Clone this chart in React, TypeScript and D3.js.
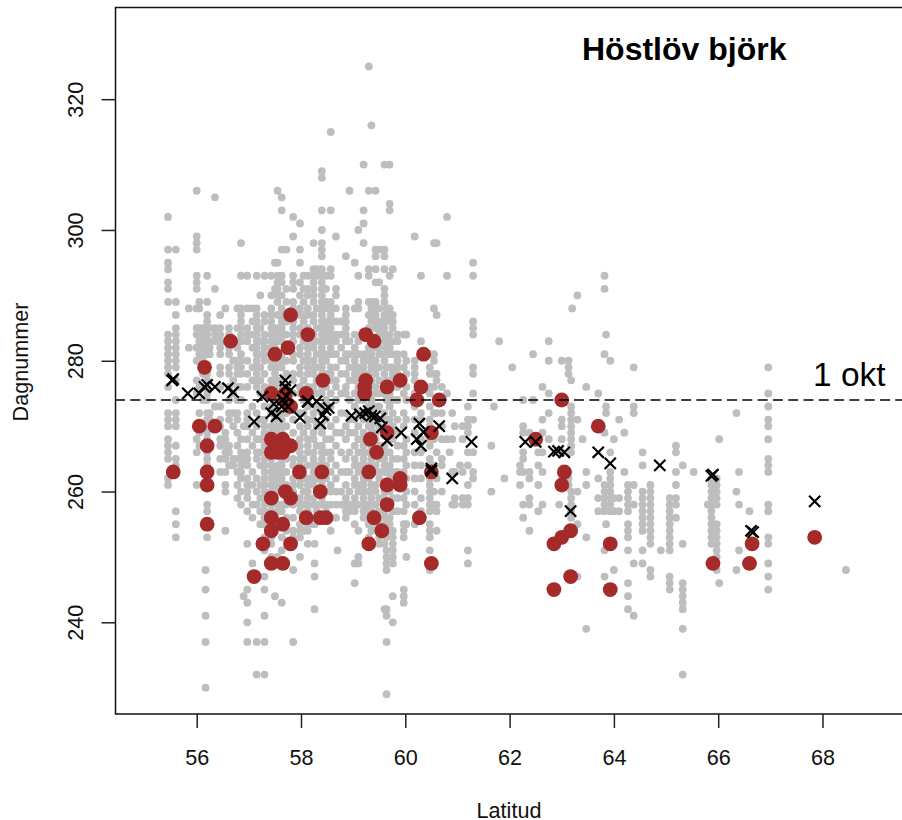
import { useEffect, useRef } from "react";
import * as d3 from "d3";

const width = 902;
const height = 820;

const xTicks = [56, 58, 60, 62, 64, 66, 68];
const yTicks = [240, 260, 280, 300, 320];
const refDay = 274; // 1 okt

// observations, one row per latitude: [latitud, dagnummer...]
const westCoast: number[][] = [
  [55.45, 302, 297, 295, 294, 292, 291, 289, 284, 283, 282, 281, 280, 279, 278, 276, 272, 271, 270, 268, 267, 266, 265, 262, 261],
  [55.6, 297, 289, 287, 285, 284, 283, 282, 281, 280, 279, 277, 274, 272, 271, 270, 267, 265, 264, 263, 257, 255, 253],
  [55.85, 288, 282],
  [56.0, 306, 299, 298, 297, 293, 292, 291, 288, 285, 284, 282, 280, 277, 275, 270, 268, 266, 261],
  [56.05, 289, 288, 285, 283, 282, 281, 280, 276, 272, 270, 269, 267],
  [56.12, 285, 284, 283, 282, 281, 280, 278, 276, 274],
  [56.17, 248, 245, 241, 237, 230],
  [56.2, 293, 289, 287, 286, 285, 284, 283, 282, 281, 279, 278, 277, 276, 275, 274, 272, 271, 270, 269, 268, 266, 265, 264, 262, 258, 257, 253],
  [56.25, 285, 283, 282, 281, 272, 271],
  [56.35, 305, 291, 285, 284, 283, 273],
  [56.45, 287, 285, 284, 283, 282, 281, 279, 278, 276, 273, 271, 270, 268, 267, 265, 263],
  [56.55, 288, 283, 269, 268, 267, 266, 265, 263, 261, 260, 254],
  [56.62, 285, 284, 282, 281, 279, 278, 276, 274, 272, 271, 267, 266, 264],
  [56.7, 280, 277, 275, 272, 270, 265, 264],
  [56.78, 288, 285, 283, 282, 280, 279, 278, 276, 274, 272, 271, 269, 267, 265, 263, 261, 259],
  [56.85, 298, 293, 288, 287, 286, 285, 284, 283, 281, 280, 279, 278, 276, 274, 268, 266, 264, 263, 262, 260, 258],
  [56.97, 293, 288, 285, 284, 283, 280, 278, 276, 272, 271, 270, 268, 266, 265, 264, 262, 261, 260, 259, 257, 252, 245, 243, 240, 237],
  [56.9, 270, 265, 244],
  [57.07, 288, 286, 284, 282, 279, 277, 273, 269, 267, 263, 261, 258, 256, 249],
  [57.15, 293, 288, 287, 286, 285, 284, 283, 282, 281, 280, 279, 278, 277, 276, 272, 270, 268, 266, 265, 262, 260, 258, 232, 237],
  [57.22, 290, 285, 283, 281, 279, 277, 275, 271, 268, 266, 264, 261, 259, 257, 255],
];

const centralA: number[][] = [
  [57.3, 293, 287, 286, 284, 283, 282, 281, 280, 278, 276, 275, 273, 271, 270, 269, 267, 265, 264, 263, 262, 261, 260, 259, 258, 257, 256, 255, 253, 251, 247, 245, 241, 237, 232],
  [57.43, 293, 290, 288, 287, 286, 285, 284, 283, 282, 281, 280, 279, 277, 276, 273, 272, 270, 269, 267, 265, 264, 263, 262, 261, 260, 258, 257, 255, 253, 252, 250],
  [57.5, 295, 291, 285, 284, 282, 280, 278, 276, 274, 271, 269, 266, 263, 261, 259, 256, 254, 244],
  [57.55, 306, 295, 293, 292, 291, 290, 289, 287, 285, 283, 281, 279, 277, 275, 272, 270, 268, 264, 262, 260, 258, 257, 255, 250],
  [57.63, 305, 303, 297, 293, 292, 290, 288, 287, 286, 285, 284, 283, 281, 280, 279, 277, 276, 274, 272, 271, 270, 269, 265, 264, 263, 262, 261, 258, 257, 253, 251, 243],
  [57.72, 297, 291, 289, 286, 284, 282, 280, 278, 276, 272, 270, 268, 265, 263, 261, 258, 256, 254],
  [57.85, 302, 299, 293, 292, 291, 289, 288, 286, 285, 284, 283, 281, 280, 278, 277, 275, 273, 271, 269, 267, 265, 264, 262, 261, 260, 258, 256, 254, 253, 248, 237],
  [57.98, 301, 297, 295, 292, 290, 288, 287, 285, 284, 282, 281, 279, 278, 276, 275, 272, 270, 268, 267, 266, 265, 264, 262, 261, 259, 258, 257, 255, 254, 253, 250],
  [58.05, 293, 291, 289, 287, 286, 283, 280, 277, 274, 272, 269, 265, 262, 260, 258, 256, 254],
  [58.13, 293, 291, 290, 288, 287, 285, 283, 282, 281, 280, 279, 278, 276, 274, 273, 271, 270, 268, 267, 266, 264, 262, 261, 260, 259, 258, 257, 255, 254, 252],
  [58.24, 298, 294, 293, 292, 291, 290, 289, 287, 286, 284, 283, 282, 280, 279, 278, 276, 275, 272, 271, 269, 268, 266, 265, 264, 263, 262, 261, 259, 258, 255],
  [58.3, 294, 293, 288, 285, 283, 281, 279, 277, 275, 273, 270, 267, 264, 262, 260, 258, 257],
  [58.26, 255, 252, 249, 247, 242],
  [58.4, 309, 308, 303, 300, 298, 297, 296, 294, 293, 292, 291, 290, 289, 288, 287, 286, 285, 284, 283, 282, 281, 280, 279, 278, 276, 275, 273, 272, 270, 269, 267, 266, 265, 264, 262, 261, 259, 258],
  [58.48, 293, 291, 289, 288, 286, 285, 284, 283, 281, 280, 278, 276, 274, 271, 268, 266, 264, 262, 260, 258, 257],
  [58.57, 315, 303, 294, 293, 289, 288, 287, 286, 285, 284, 283, 282, 281, 279, 278, 277, 275, 273, 270, 268, 266, 265, 263, 261, 260, 258, 254],
  [58.67, 299, 291, 290, 288, 286, 284, 283, 281, 279, 277, 276, 274, 271, 269, 267, 264, 262, 260, 258, 256],
  [58.7, 251],
  [58.77, 286, 284, 282, 280, 278, 275, 272, 269, 266, 263, 260, 258],
  [58.86, 296, 288, 287, 286, 285, 284, 283, 281, 280, 278, 276, 275, 272, 270, 268, 265, 263, 261, 259, 258, 257, 256],
  [58.93, 306, 283, 281, 279, 277, 274, 271, 269, 266, 263, 260, 258, 257],
  [59.03, 295, 288, 284, 282, 281, 280, 279, 278, 277, 275, 273, 271, 269, 267, 265, 264, 262, 261, 259, 258, 257, 255, 249, 246],
  [59.1, 300, 293, 289, 288, 283, 281, 279, 278, 276, 274, 272, 270, 268, 266, 264, 263, 261, 260, 258, 254, 250, 249],
];

const centralB: number[][] = [
  [59.2, 310, 303, 301, 298, 281, 280, 279, 278, 277, 276, 275, 274, 272, 271, 269, 268, 267, 266, 265, 264, 262, 261, 260, 259, 258, 257, 256],
  [59.3, 325, 306, 294, 293, 289, 287, 285, 282, 281, 280, 278, 277, 275, 273, 271, 270, 268, 266, 264, 262, 260, 258, 257, 255, 253],
  [59.35, 316, 289, 288, 287, 286, 283, 281, 279, 277, 276, 274, 272, 270, 269, 267, 265, 263, 261, 259, 257, 256, 254],
  [59.43, 306, 297, 296, 294, 292, 289, 288, 287, 286, 285, 283, 282, 280, 279, 278, 276, 275, 273, 271, 269, 268, 266, 264, 263, 261, 260, 258, 256, 255],
  [59.5, 297, 292, 288, 286, 285, 284, 282, 281, 279, 277, 275, 273, 270, 267, 265, 263, 262, 259, 257, 255, 253, 252],
  [59.6, 310, 297, 296, 294, 291, 290, 289, 287, 286, 285, 284, 283, 281, 280, 278, 276, 275, 272, 271, 269, 267, 266, 265, 264, 263, 261, 260, 259, 257, 256, 254, 252, 242],
  [59.64, 288, 282, 279, 277, 274, 270, 266, 263, 258, 256, 255, 253, 251, 250, 249, 248, 242, 241, 237, 229],
  [59.7, 310, 304, 303, 293, 288, 287, 286, 284, 283, 282, 281, 279, 277, 276, 275, 273, 271, 268, 266, 264, 262, 260, 258, 256, 255, 254],
  [59.76, 294, 287, 286, 285, 283, 281, 279, 278, 276, 274, 272, 270, 268, 265, 263, 261, 259, 257, 254, 253, 252, 251, 250, 249, 244, 240],
  [59.85, 284, 283, 281, 280, 279, 278, 276, 274, 271, 269, 267, 265, 263, 261, 259, 257],
  [59.97, 284, 281, 279, 277, 275, 272, 270, 267, 265, 263, 261, 259, 257, 255, 254, 253, 245, 244, 243],
  [60.02, 284, 280, 278, 276, 274, 271, 268, 266, 264, 262, 260, 258, 255, 250],
  [60.18, 299, 280, 279, 278, 277, 275, 273, 271, 269, 266, 264, 262, 260, 258, 255],
  [60.3, 293, 283, 276, 274, 272, 271, 268, 266, 264, 262, 259, 257],
  [60.47, 281, 279, 278, 276, 275, 273, 271, 270, 268, 267, 265, 264, 262, 261, 260, 259, 258, 257, 255, 254, 253, 251, 248],
  [60.55, 298, 288, 281, 280, 278, 276, 272, 268, 264, 260, 258],
  [60.6, 298, 287, 278, 277, 272, 266, 262, 258, 257, 254],
  [60.7, 276, 272, 270, 268, 265, 264, 260],
  [60.8, 302, 293, 275, 268],
  [60.85, 266],
  [60.9, 272, 268, 263, 258],
  [61.05, 264],
  [61.1, 270, 268, 263, 259, 258],
];

const north: number[][] = [
  [60.95, 270, 263, 259, 258],
  [61.2, 273, 271, 270, 269, 266, 264, 261, 259, 258, 251, 249],
  [61.3, 295, 293, 286, 285, 284, 279, 278, 275, 271, 266, 263, 262],
  [61.65, 267, 260],
  [61.7, 273],
  [61.8, 283],
  [61.9, 262],
  [62.05, 279],
  [62.2, 264, 263, 261],
  [62.26, 274, 270, 269, 266, 265, 263, 258, 256],
  [62.38, 269, 263, 262, 259, 258, 254],
  [62.45, 281, 274],
  [62.55, 266, 264, 261, 257],
  [62.63, 276, 271, 269, 266, 263, 258],
  [62.75, 283, 280, 275, 272, 268],
  [62.95, 258],
  [63.0, 280, 271, 270, 268, 266],
  [63.13, 280, 279, 278, 263, 262, 261],
  [63.18, 277, 273, 272, 271, 270, 269, 268, 267, 266, 260, 259, 258, 257, 256],
  [63.3, 290, 271, 260, 255, 247],
  [63.2, 288],
  [63.47, 276, 263, 261, 253, 239],
  [63.4, 268],
  [63.7, 275, 262, 259, 257],
  [63.82, 293, 291, 281, 269, 261, 260, 259, 258, 257, 251, 247],
  [63.85, 284, 273, 272, 255],
  [63.93, 280, 266, 263, 262, 261, 260, 259, 258, 257],
  [64.0, 268, 259, 257, 248],
  [64.1, 271, 259, 257],
  [64.2, 269, 263],
  [64.27, 261, 260, 259, 258, 257, 255, 254, 253, 251, 246, 244, 242],
  [64.38, 279, 273, 272, 261, 258, 249, 241],
  [64.55, 266, 264, 260, 259, 258, 257, 256, 255, 254, 251, 249],
  [64.7, 261, 260, 259, 258, 257, 256, 255, 254, 253, 252, 248, 247],
  [64.9, 251],
  [65.07, 259, 258, 257, 256, 255, 254, 253, 252, 251, 247, 246, 245],
  [65.19, 267, 266, 263, 261, 259, 258, 256],
  [65.32, 264, 252, 246, 245, 244, 243, 242, 239, 232],
  [65.53, 263],
  [65.8, 258],
  [65.87, 262, 261, 260, 259, 258, 257, 256, 255, 254, 253, 252],
  [65.97, 262, 261, 260, 259, 258, 255, 254, 253, 252, 251, 250, 248],
  [66.02, 268, 246],
  [66.35, 272, 260, 248],
  [66.4, 263, 258, 251],
  [66.6, 257],
  [66.96, 279, 275, 273, 271, 270, 268, 265, 264, 263, 258, 257, 253, 252, 249, 247, 245],
  [68.45, 248],
];

// station means
const crosses: [number, number][] = [
  [55.53, 277], [55.55, 277.2], [55.83, 275], [56.05, 275], [56.15, 276], [56.2, 276.3], [56.35, 276],
  [56.6, 275.8], [56.7, 275.2], [57.1, 270.7], [57.26, 274.5], [57.43, 272], [57.48, 273.4], [57.53, 271.5],
  [57.63, 273], [57.65, 274], [57.7, 277], [57.7, 276], [57.72, 274.6], [57.75, 273], [57.8, 275.5],
  [57.98, 271.3], [58.13, 273.8], [58.13, 273.7], [58.3, 273.8], [58.37, 270.4], [58.42, 271.7], [58.47, 272.5],
  [58.53, 272.8], [58.97, 271.6], [59.13, 271.8], [59.23, 272], [59.3, 272.3], [59.35, 271.6], [59.42, 271.5],
  [59.52, 271.2], [59.55, 269.8], [59.65, 267.8], [59.92, 269], [60.22, 268], [60.27, 270.4], [60.3, 267],
  [60.35, 269.1], [60.5, 263.5], [60.5, 263.2], [60.65, 270], [60.9, 262], [61.27, 267.6], [62.3, 267.6],
  [62.5, 267.6], [62.85, 266.1], [62.93, 266.2], [63.05, 266], [63.17, 257], [63.7, 266], [63.93, 264.3],
  [64.88, 264], [65.87, 262.4], [65.9, 262.6], [66.63, 254], [66.67, 253.8], [67.85, 258.5],
];

// one year's observation per station
const reds: [number, number][] = [
  [55.55, 263], [56.05, 270], [56.15, 279], [56.2, 267], [56.2, 263], [56.2, 261], [56.2, 255], [56.35, 270], [56.65, 283],
  [57.1, 247], [57.27, 252], [57.43, 275], [57.43, 268], [57.43, 266], [57.43, 259], [57.43, 256], [57.43, 254],
  [57.43, 249], [57.5, 281], [57.55, 267], [57.55, 266], [57.65, 268], [57.65, 266], [57.65, 255], [57.65, 249],
  [57.7, 275], [57.7, 274], [57.7, 260], [57.75, 282], [57.8, 287], [57.8, 273], [57.8, 267], [57.8, 259], [57.8, 252],
  [57.97, 263], [58.1, 275], [58.1, 256], [58.13, 284], [58.37, 260], [58.4, 263], [58.37, 256], [58.42, 277], [58.48, 256],
  [59.24, 284], [59.24, 277], [59.22, 276], [59.22, 275], [59.3, 263], [59.3, 252], [59.33, 268], [59.4, 283], [59.4, 256],
  [59.45, 266], [59.55, 254], [59.65, 276], [59.65, 269], [59.65, 261], [59.65, 258], [59.9, 277], [59.9, 262], [59.9, 261],
  [60.22, 274], [60.27, 256], [60.3, 276], [60.35, 281], [60.5, 269], [60.5, 263], [60.5, 249], [60.65, 274],
  [62.5, 268], [62.85, 252], [62.85, 245], [63.0, 274], [63.0, 261], [63.0, 253], [63.05, 263], [63.17, 254], [63.17, 247],
  [63.7, 270], [63.93, 252], [63.93, 245], [65.9, 249], [66.6, 249], [66.65, 252], [67.85, 253],
];

const greyRows = [...westCoast, ...centralA, ...centralB, ...north];

const x = d3.scaleLinear().domain([56, 68]).range([196.7, 822.5]);
const y = d3.scaleLinear().domain([240, 320]).range([622.3, 99.2]);

const font = "'Liberation Sans', Arial, sans-serif";

export default function App() {
  const xAxisRef = useRef<SVGGElement>(null);
  const yAxisRef = useRef<SVGGElement>(null);

  useEffect(() => {
    const xg = d3.select(xAxisRef.current!);
    xg.call(d3.axisBottom(x).tickValues(xTicks).tickSize(14).tickSizeOuter(0) as any);
    xg.select(".domain").remove();
    xg.selectAll("line").attr("stroke", "#222").attr("stroke-width", 1.5);
    xg.selectAll("text")
      .attr("font-size", 21.6)
      .attr("font-family", font)
      .attr("fill", "#111")
      .attr("y", 51)
      .attr("dy", 0);

    const yg = d3.select(yAxisRef.current!);
    yg.call(d3.axisLeft(y).tickValues(yTicks).tickSize(14).tickSizeOuter(0) as any);
    yg.select(".domain").remove();
    yg.selectAll("line").attr("stroke", "#222").attr("stroke-width", 1.5);
    yg.selectAll("text")
      .attr("font-size", 21.6)
      .attr("font-family", font)
      .attr("fill", "#111")
      .attr("text-anchor", "middle")
      .attr("dy", 0)
      .attr("x", 0)
      .attr("transform", "translate(-32.8,0) rotate(-90)");
  }, []);

  const grey: [number, number][] = greyRows.flatMap((r) =>
    r.slice(1).map((d) => [r[0], d] as [number, number])
  );

  const armSize = 5.6;

  return (
    <svg
      width={width}
      height={height}
      style={{ position: "absolute", left: 0, top: 0, background: "#fff" }}
    >
      <g>
        {grey.map(([lat, day], i) => (
          <circle key={i} cx={x(lat)} cy={y(day)} r={3.9} fill="#bebebe" />
        ))}
      </g>
      <g>
        {reds.map(([lat, day], i) => (
          <circle key={i} cx={x(lat)} cy={y(day)} r={7.4} fill="#a52a2a" />
        ))}
      </g>
      <line
        x1={115}
        x2={902}
        y1={y(refDay)}
        y2={y(refDay)}
        stroke="#000"
        strokeWidth={1.5}
        strokeDasharray="10 5.3"
      />
      <g stroke="#000" strokeWidth={2.2}>
        {crosses.map(([lat, day], i) => {
          const cx = x(lat);
          const cy = y(day);
          return (
            <path
              key={i}
              fill="none"
              d={`M${cx - armSize},${cy - armSize}L${cx + armSize},${cy + armSize}M${cx - armSize},${cy + armSize}L${cx + armSize},${cy - armSize}`}
            />
          );
        })}
      </g>
      <path d="M902,7.5H115.5V714H902" fill="none" stroke="#111" strokeWidth={1.5} />
      <g ref={xAxisRef} transform="translate(0,714)" />
      <g ref={yAxisRef} transform="translate(115.5,0)" />
      <text x={582} y={60} fontFamily={font} fontWeight="bold" fontSize={32} fill="#000">
        Höstlöv björk
      </text>
      <text x={813} y={386} fontFamily={font} fontSize={33.5} fill="#000">
        1 okt
      </text>
      <text x={509} y={818} textAnchor="middle" fontFamily={font} fontSize={21.6} fill="#111">
        Latitud
      </text>
      <text
        transform="translate(28,362) rotate(-90)"
        textAnchor="middle"
        fontFamily={font}
        fontSize={21.6}
        fill="#111"
      >
        Dagnummer
      </text>
    </svg>
  );
}
